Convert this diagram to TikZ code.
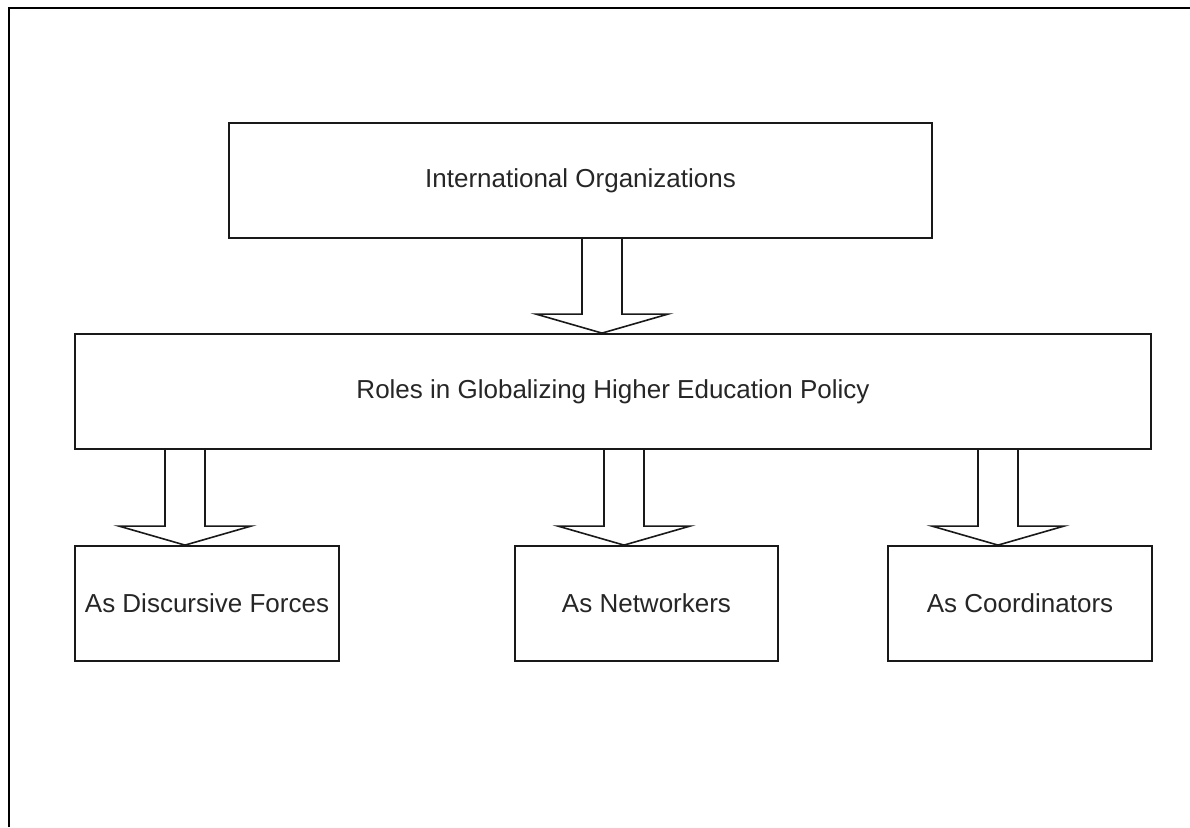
\documentclass[tikz,border=0pt]{standalone}
\usepackage{fontspec}
\setmainfont{Liberation Sans}
\usetikzlibrary{calc}
\tikzset{
  box/.style={draw=black!90, line width=1.8pt, rectangle, inner sep=0pt, minimum height=115pt,
    font=\fontsize{26}{30}\selectfont, text=black!85},
  blockarrow/.style={draw=black!90, line width=1.6pt, line join=miter},
}
\newcommand\blockarr[3]{%
  \draw[blockarrow] ($(#1.south -| #3)+(-20,0)$) -- ($(#2.north -| #3)+(-20,-19)$)
    -- ($(#2.north -| #3)+(-66,-19)$) -- (#2.north -| #3) -- ($(#2.north -| #3)+(66,-19)$)
    -- ($(#2.north -| #3)+(20,-19)$) -- ($(#1.south -| #3)+(20,0)$);}
\begin{document}
\begin{tikzpicture}[x=1pt,y=-1pt]
\useasboundingbox (0,0) rectangle (1190,827);
\draw[line width=2.2pt, black] (9,827) coordinate (fb) -- (9,8) coordinate (fc) -- (1190,8) coordinate (fr);
\node[box, minimum width=703pt] (io) at (580.5,180.5) {International Organizations};
\node[box, minimum width=1076pt] (roles) at (613,391.5) {Roles in Globalizing Higher Education Policy};
\node[box, minimum width=264pt] (disc) at (207,603.5) {As Discursive Forces};
\node[box, minimum width=263pt] (net) at (646.5,603.5) {As Networkers};
\node[box, minimum width=264pt] (coord) at (1020,603.5) {As Coordinators};
\coordinate (ax0) at (602,0);
\coordinate (ax1) at (185,0);
\coordinate (ax2) at (624,0);
\coordinate (ax3) at (998,0);
\blockarr{io}{roles}{ax0}
\blockarr{roles}{disc}{ax1}
\blockarr{roles}{net}{ax2}
\blockarr{roles}{coord}{ax3}
\end{tikzpicture}
\end{document}
